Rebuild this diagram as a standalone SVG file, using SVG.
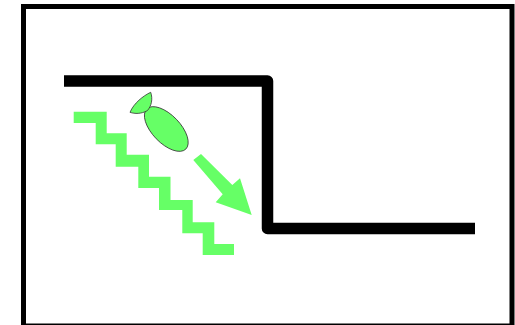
<svg xmlns="http://www.w3.org/2000/svg" width="515" height="325" viewBox="0 0 515 325">
<style>.g{fill:#66ff66;stroke:none}.f{fill:#66ff66;stroke:#333;stroke-width:.8}.k{fill:none;stroke:#000}</style>
<rect width="515" height="325" fill="#fff"/>
<rect id="frame" class="k" x="23.5" y="6.5" width="488.5" height="319.5" stroke-width="5"/>
<path id="wall" class="k" stroke-width="11.5" stroke-linejoin="round" d="M64 81H267.5V228.5H475"/>
<polygon id="stairs" class="g" points="73.7,111.7 106.7,111.7 106.7,133.3 126.7,133.3 126.7,154.7 149,154.7 149,176.7 170.5,176.7 170.5,200 192.7,200 192.7,222.3 214.3,222.3 214.3,244 234,244 234,255 202.7,255 202.7,233.3 182.3,233.3 182.3,210 159,210 159,188 138.3,188 138.3,166.7 115.7,166.7 115.7,144.3 95.7,144.3 95.7,123 73.7,123"/>
<polygon id="arrow" class="g" points="201,154 193.3,160 222.7,194.3 215.7,202.3 251.7,215 240,178.3 232.3,185"/>
<g id="fish">
<ellipse class="f" cx="166.3" cy="129" rx="28" ry="14" transform="rotate(46 166.3 129)"/>
<path class="f" d="M130 112.3C134 103 143 96 150.7 92.3C153 99 151.5 106 147.3 110.7C141 114 135 114 130 112.3Z"/>
</g>
</svg>
